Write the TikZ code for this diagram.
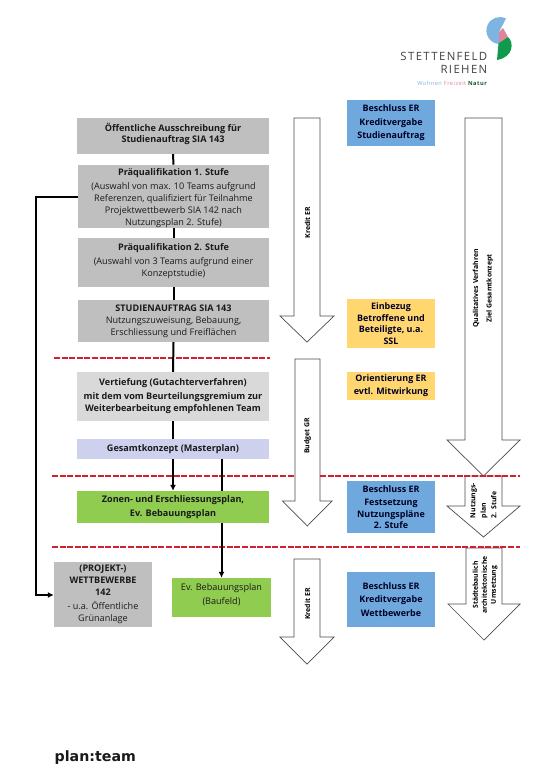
\documentclass[tikz,border=0pt]{standalone}
\usepackage{fontspec}
\setmainfont{Open Sans}
\newfontfamily\planfont{DejaVu Sans}
\usetikzlibrary{calc,arrows.meta}
\definecolor{gbox}{HTML}{BFBFBF}
\definecolor{lgbox}{HTML}{D9D9D9}
\definecolor{lav}{HTML}{CDD1EE}
\definecolor{grn}{HTML}{8FCC4F}
\definecolor{blu}{HTML}{6FA8DC}
\definecolor{yel}{HTML}{FFD76E}
\definecolor{redd}{HTML}{D2202F}
\definecolor{ink}{HTML}{1A1A1A}
\definecolor{logoblue}{HTML}{7DB4E2}
\definecolor{logopink}{HTML}{E0849C}
\definecolor{logogreen}{HTML}{109A4B}
\tikzset{
  box/.style={anchor=center,inner sep=0pt,align=center,text=ink,font=\fontsize{9.1}{12}\selectfont},
  rbox/.style={box,font=\bfseries\fontsize{8.95}{13.5}\selectfont,text=black!85!blue},
  conn/.style={draw=black,line width=2pt},
  tipconn/.style={conn,-{Latex[length=6pt,width=6pt]}},
  reddash/.style={draw=redd,line width=2pt,dash pattern=on 6pt off 1.6pt},
  bigarrow/.style={draw=black!70,line width=0.7pt,fill=white},
  vtext/.style={rotate=90,inner sep=0pt,align=center,font=\bfseries\fontsize{6.9}{10.5}\selectfont,text=black},
  logotext/.style={anchor=east,inner sep=0pt,text=black!75,font={\fontsize{11.4}{13}\selectfont\addfontfeature{LetterSpace=12}}},
}
\newcommand{\boxat}[8][box]{\node[#1,fill=#3,minimum width=#6pt-#4pt,minimum height=#7pt-#5pt] (#2) at ({(#4+#6)/2},{(#5+#7)/2}) {#8};}
\newcommand{\bigarr}[8]{\draw[bigarrow] (#1,#2) -- (#3,#2) -- (#3,#4) -- (#6,#4) -- ({(#5+#6)/2},#7) -- (#5,#4) -- (#1,#4) -- cycle;
  \coordinate (#8) at ({(#1+#3)/2},{(#2+#4)/2});}
\begin{document}
\begin{tikzpicture}[x=1pt,y=-1pt]
\useasboundingbox (0,0) rectangle (536,774);
% left boxes
\boxat{b1}{gbox}{77}{118}{269}{154}{\textbf{Öffentliche Ausschreibung für}\\[-1pt]\textbf{Studienauftrag SIA 143}\\[-5pt]}
\boxat{b2}{gbox}{78}{165}{269}{228}{\rule{0pt}{11pt}\textbf{Präqualifikation 1. Stufe}\\[2pt](Auswahl von max. 10 Teams aufgrund\\Referenzen, qualifiziert für Teilnahme\\Projektwettbewerb SIA 142 nach\\Nutzungsplan 2. Stufe)}
\boxat{b3}{gbox}{78}{238}{269}{287}{\textbf{Präqualifikation 2. Stufe}\\[2pt](Auswahl von 3 Teams aufgrund einer\\Konzeptstudie)\\[-7pt]}
\boxat{b4}{gbox}{78}{300}{269}{342}{\textbf{STUDIENAUFTRAG SIA 143}\\Nutzungszuweisung, Bebauung,\\Erschliessung und Freiflächen}
\boxat{b5}{lgbox}{77}{372}{269}{421}{\textbf{Vertiefung (Gutachterverfahren)}\\[2pt]\textbf{mit dem vom Beurteilungsgremium zur}\\\textbf{Weiterbearbeitung empfohlenen Team}\\[-9pt]}
\boxat{b6}{lav}{77}{439}{269}{459}{\textbf{Gesamtkonzept (Masterplan)}}
\boxat{b7}{grn}{77}{491}{269}{523}{\textbf{Zonen- und Erschliessungsplan,}\\[1.5pt]\textbf{Ev. Bebauungsplan}}
\boxat{b8}{gbox}{54}{562}{152}{627}{\textbf{(PROJEKT-)}\\\textbf{WETTBEWERBE}\\\textbf{142}\\[2pt]- u.a. Öffentliche\\Grünanlage}
\boxat{b9}{grn}{172}{578}{271}{617}{Ev. Bebauungsplan\\[2pt](Baufeld)\\[-5pt]}
% red line ends
\coordinate (r1a) at (54,358); \coordinate (r1b) at (270,358);
\coordinate (r2a) at (52,476); \coordinate (r2b) at (520,476);
\coordinate (r3a) at (52,547); \coordinate (r3b) at (520,547);
\coordinate (r2c) at (295,476); \coordinate (r2d) at (320,476);
\draw[reddash] (r1a) -- (r1b);
\draw[reddash] (r2a) -- (r2c);
% big arrows
\bigarr{294}{118}{320}{316}{280}{334}{342}{a1}
\bigarr{295}{359}{320}{501}{282.5}{332}{526}{a2}
\bigarr{294}{559}{320}{637}{280}{334}{664}{a3}
\bigarr{465}{118}{502}{440}{447}{520}{476}{a4}
\bigarr{465}{476}{502}{506}{447}{520}{537}{a5}
\bigarr{466}{548}{502}{604}{448}{520}{640}{a6}
\draw[reddash] (r2d) -- (r2b);
\draw[reddash] (r3a) -- (r3b);
% connectors
\draw[conn] (b1.south) -- (b2.north);
\draw[conn] (b2.south) -- (b3.north);
\draw[conn] (b3.south) -- (b4.north);
\draw[conn] (b4.south) -- (b5.north);
\draw[conn] (b5.south) -- (b6.north);
\draw[tipconn] (b6.south) -- (b7.north);
\draw[conn] (b9.north |- b6.south) -- (b9.north |- b7.north);
\draw[tipconn] (b9.north |- b7.south) -- (b9.north);
\coordinate (lt) at (36,197);
\coordinate (lb) at (36,595);
\draw[tipconn] (b2.west |- lt) -- (lt) -- (lb) -- (b8.west |- lb);
% arrow labels
\node[vtext] (t1) at (307.5,222.5) {Kredit ER};
\node[vtext] (t2) at (307.5,436) {Budget GR};
\node[vtext] (t3) at (307.5,604) {Kredit ER};
\node[vtext] (t4) at (483,288.5) {Qualitatives Verfahren\\[3pt]Ziel Gesamtkonzept};
\node[vtext,align=left] (t5) at (483.5,500.5) {Nutzungs-\\plan\\2. Stufe};
\node[vtext,font=\bfseries\fontsize{6.8}{9}\selectfont] (t6) at (485,585) {Städtebaulich\\architektonische\\Umsetzung};
% right boxes
\boxat[rbox]{c1}{blu}{347}{100}{435}{146}{Beschluss ER\\Kreditvergabe\\Studienauftrag}
\boxat[rbox]{c2}{yel}{347}{299}{435}{348}{Einbezug\\[-2pt]Betroffene und\\[-2pt]Beteiligte, u.a.\\[-2pt]SSL}
\boxat[rbox]{c3}{yel}{347}{372}{435}{400}{Orientierung ER\\[-0.5pt]evtl. Mitwirkung}
\boxat[rbox]{c4}{blu}{347}{481}{435}{533}{Beschluss ER\\[-0.5pt]Festsetzung\\[-1.5pt]Nutzungspläne\\[-2pt]2. Stufe}
\boxat[rbox]{c5}{blu}{347}{572}{435}{627}{Beschluss ER\\Kreditvergabe\\Wettbewerbe}
% logo
\fill[logoblue] (506,18.5) arc[start angle=-63,end angle=-266,radius=13.5] -- (499,32) -- cycle;
\fill[logopink] (499,32) -- (503,28) -- (508,37) -- (499,43.5) -- cycle;
\fill[logogreen] (508,37) .. controls (514,42) and (514,57) .. (497,60) -- (498.5,43.5) -- cycle;
\node[logotext] (s1) at (487.5,56) {STETTENFELD};
\node[logotext] (s2) at (487.5,69.5) {RIEHEN};
\node[anchor=east,inner sep=0pt,font={\fontsize{5.7}{7}\selectfont\addfontfeature{LetterSpace=8}}] (s3) at (487.5,83) {\textcolor{logoblue}{Wohnen} \textcolor{logopink}{Freizeit} \textcolor{logogreen!60!black}{\textbf{Natur}}};
\node[anchor=base west,inner sep=0pt,font=\planfont\bfseries\fontsize{14.2}{17}\selectfont,text=black!90] (pt) at (54.5,761) {plan:team};
\end{tikzpicture}
\end{document}
